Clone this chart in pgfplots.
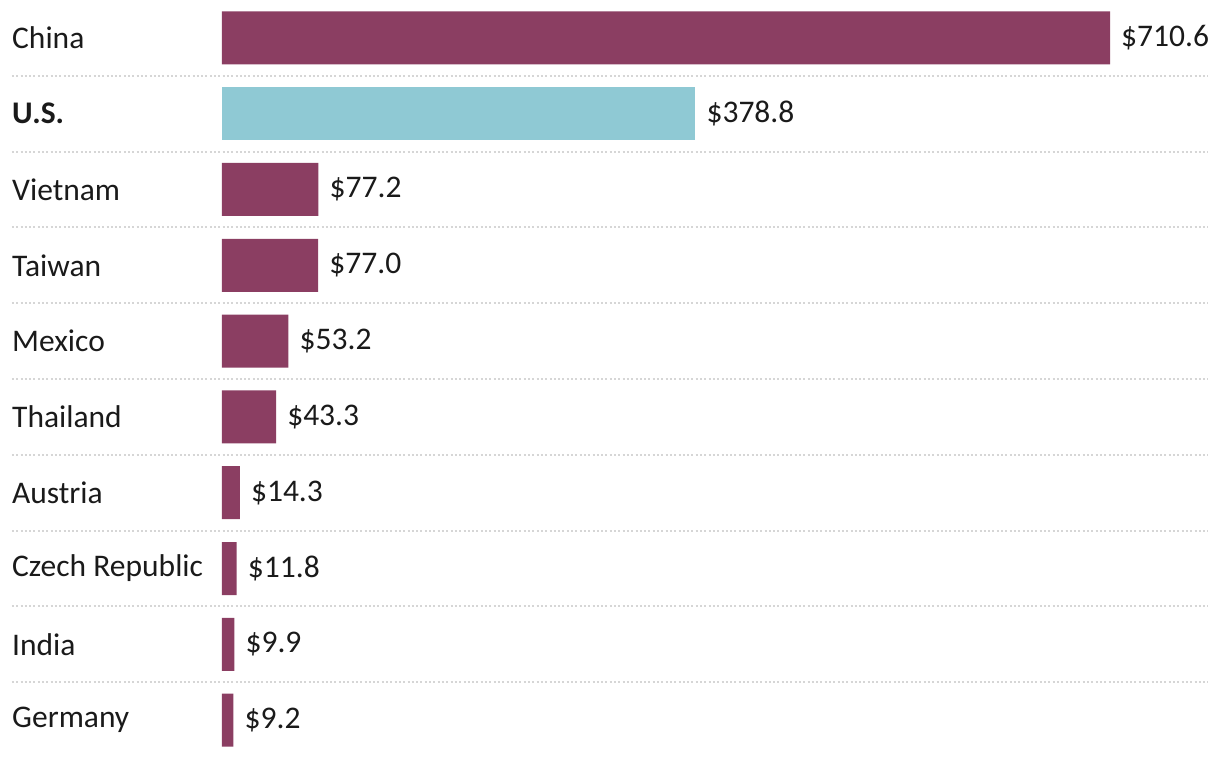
\documentclass[border=0pt]{standalone}
\usepackage{pgfplots}
\pgfplotsset{compat=1.18}
\usepackage{fontspec}
\setmainfont{Carlito}
\definecolor{barplum}{RGB}{139,62,98}
\definecolor{barteal}{RGB}{143,201,212}
\definecolor{sepgray}{RGB}{214,214,214}
\definecolor{txt}{RGB}{26,26,26}

\begin{document}
\begin{tikzpicture}
\begin{axis}[
  name=ax,
  scale only axis,
  width=888pt, height=758pt,
  xmin=0, xmax=710.6,
  ymin=-0.5, ymax=9.5,
  y dir=reverse,
  xbar, bar width=53pt, bar shift=0pt,
  axis line style={draw=none},
  major tick length=0pt,
  xtick=\empty,
  ytick={0,...,9},
  yticklabels={China,\textbf{U.S.},Vietnam,Taiwan,Mexico,Thailand,Austria,Czech Republic,India,Germany},
  yticklabel style={anchor=west, xshift=-210pt, inner xsep=0pt,
    font=\fontsize{31.5}{36}\selectfont, text=txt},
  clip=false,
  point meta=x,
  nodes near coords={\$\pgfmathprintnumber{\pgfplotspointmeta}},
  every node near coord/.append style={font=\fontsize{31.5}{36}\selectfont,
    text=txt, anchor=west, inner xsep=0pt, xshift=11pt},
  /pgf/number format/fixed,
  /pgf/number format/fixed zerofill,
  /pgf/number format/precision=1,
  /pgf/number format/assume math mode=true,
]
% dotted separators between rows
\pgfplotsinvokeforeach{0,...,8}{
  \draw[sepgray, line width=2pt, dash pattern=on 2pt off 2.3pt]
    ([xshift=-210pt]axis cs:0,#1.5) -- ([xshift=98pt]axis cs:710.6,#1.5);
}
\addplot[draw=none, fill=barplum] coordinates {
  (710.6,0) (77.2,2) (77.0,3) (53.2,4) (43.3,5)
  (14.3,6) (11.8,7) (9.9,8) (9.2,9)
};
\addplot[draw=none, fill=barteal] coordinates {
  (378.8,1)
};
\end{axis}
\pgfresetboundingbox
\path[use as bounding box] ([xshift=-222pt]ax.south west) rectangle ([xshift=110pt]ax.north east);
\end{tikzpicture}
\end{document}
